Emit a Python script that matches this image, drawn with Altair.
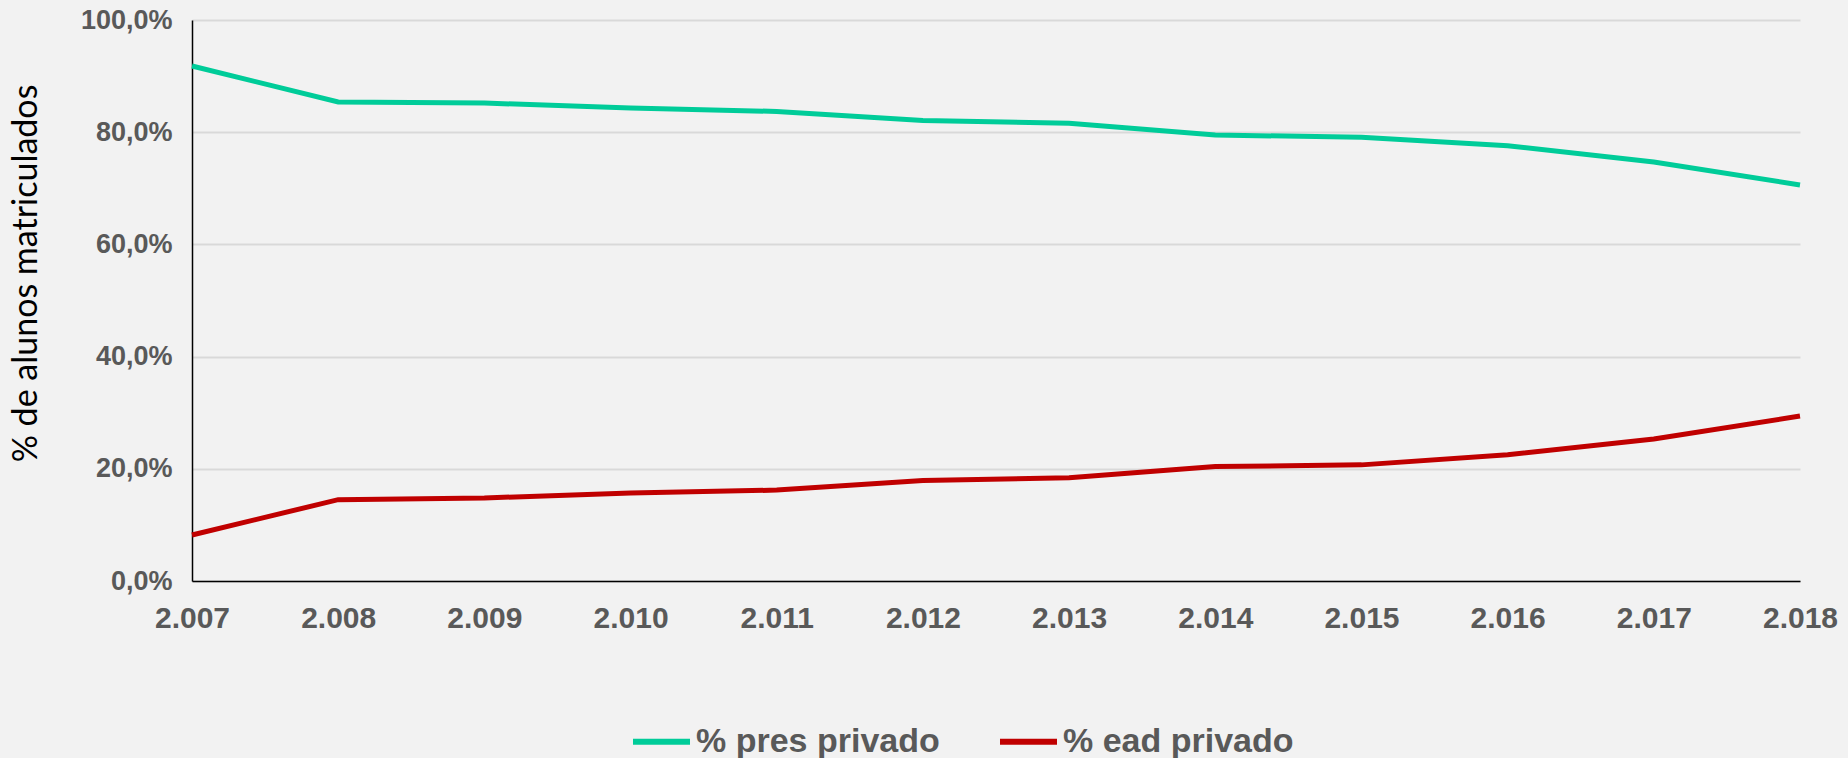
import altair as alt
import pandas as pd

years = [2007, 2008, 2009, 2010, 2011, 2012, 2013, 2014, 2015, 2016, 2017, 2018]
pres_privado = [91.8, 85.4, 85.2, 84.3, 83.7, 82.1, 81.6, 79.5, 79.1, 77.6, 74.7, 70.6]
ead_privado = [8.2, 14.5, 14.8, 15.7, 16.2, 17.9, 18.4, 20.4, 20.7, 22.5, 25.3, 29.4]
series_names = ["% pres privado", "% ead privado"]
series_colors = ["#00CC99", "#C00000"]
y_ticks = [0, 20, 40, 60, 80, 100]

rows = []
for name, vals in zip(series_names, [pres_privado, ead_privado]):
    for yr, v in zip(years, vals):
        rows.append({"ano": yr, "valor": v, "serie": name})
df = pd.DataFrame(rows)

W, H = 1608, 561

chart = alt.Chart(df).mark_line(strokeWidth=5).encode(
    x=alt.X("ano:Q",
            scale=alt.Scale(domain=[years[0], years[-1]], nice=False, zero=False),
            axis=alt.Axis(values=years, title=None, grid=False, ticks=False,
                          labelExpr="replace(format(datum.value, ','), ',', '.')",
                          labelFont="Liberation Sans", labelFontWeight="bold",
                          labelFontSize=30, labelColor="#595959", labelPadding=22,
                          labelOverlap=False, labelFlush=False,
                          domainColor="#000000", domainWidth=1.5)),
    y=alt.Y("valor:Q",
            scale=alt.Scale(domain=[0, 100], nice=False),
            axis=alt.Axis(values=y_ticks, title="% de alunos matriculados",
                          labelExpr="replace(format(datum.value, '.1f'), '.', ',') + '%'",
                          labelFont="Liberation Sans", labelFontWeight="bold",
                          labelFontSize=27, labelColor="#595959", labelPadding=20,
                          ticks=False, grid=True, gridColor="#D9D9D9", gridWidth=2,
                          domainColor="#000000", domainWidth=1.5,
                          titleFont="Lato", titleFontWeight="normal", titleFontSize=34,
                          titleColor="#000000", titleX=-166, titleY=253,
                          titleAngle=-90, titleAlign="center", titleBaseline="middle")),
    color=alt.Color("serie:N",
                    scale=alt.Scale(domain=series_names, range=series_colors),
                    legend=alt.Legend(title=None, orient="none", direction="horizontal",
                                      legendX=438, legendY=690,
                                      symbolType="stroke", symbolSize=3249,
                                      symbolStrokeWidth=6, labelOffset=3,
                                      columnPadding=48,
                                      labelFont="Liberation Sans", labelFontWeight="bold",
                                      labelFontSize=34, labelColor="#595959",
                                      labelLimit=400)),
).properties(
    width=W, height=H,
    autosize=alt.AutoSizeParams(type="none"),
    padding={"left": 184, "top": 12, "right": 40, "bottom": 177},
    background="#F2F2F2",
).configure_view(stroke=None)

chart.save("out.html", embed_options={"renderer": "svg", "actions": False,
                                      "defaultStyle": "body{background:#F2F2F2;}"})
